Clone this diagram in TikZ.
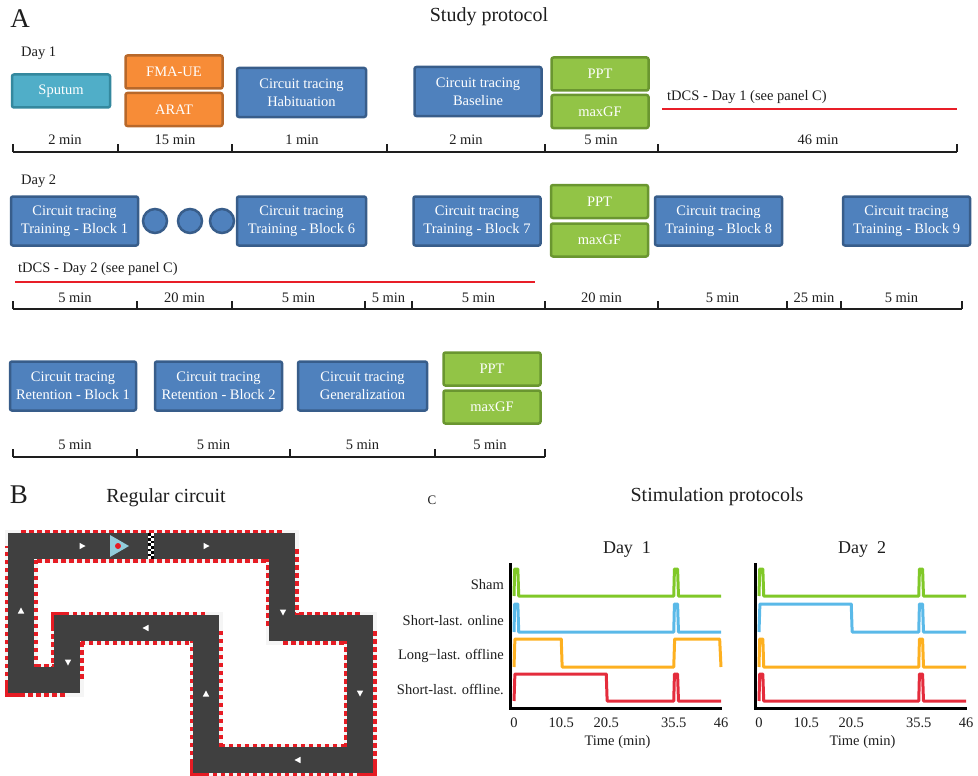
\documentclass[tikz,border=0pt]{standalone}
\usepackage{fontspec}
\setmainfont{Liberation Serif}
\definecolor{ctfill}{RGB}{79,129,189}
\definecolor{ctedge}{RGB}{56,93,138}
\definecolor{spfill}{RGB}{80,174,200}
\definecolor{spedge}{RGB}{52,136,158}
\definecolor{orfill}{RGB}{247,140,55}
\definecolor{oredge}{RGB}{184,104,42}
\definecolor{grfill}{RGB}{146,196,70}
\definecolor{gredge}{RGB}{106,150,48}
\definecolor{ink}{RGB}{30,30,30}
\definecolor{tdcsred}{RGB}{232,30,40}
\definecolor{asphalt}{RGB}{64,64,64}
\definecolor{kerbred}{RGB}{230,28,36}
\definecolor{carblue}{RGB}{146,205,220}
\definecolor{shamgreen}{RGB}{128,200,40}
\definecolor{onlineblue}{RGB}{90,185,232}
\definecolor{longorange}{RGB}{253,176,32}
\definecolor{offred}{RGB}{228,44,60}
\usepackage{tikz}
\usetikzlibrary{positioning}
\tikzset{
  box/.style={draw,line width=2.5pt,rounded corners=2pt,align=center,text=white,
              font=\fontsize{14.5}{18}\selectfont,inner sep=0pt},
  ctbox/.style={box,draw=ctedge,fill=ctfill,minimum width=127pt,minimum height=49pt},
  spbox/.style={box,draw=spedge,fill=spfill,minimum width=97pt,minimum height=33pt},
  clbox/.style={box,draw=oredge,fill=orfill,minimum width=97pt,minimum height=33pt},
  gfbox/.style={box,draw=gredge,fill=grfill,minimum width=97pt,minimum height=33pt},
  gapdot/.style={circle,draw=ctedge,fill=ctfill,line width=2.5pt,minimum size=24pt,inner sep=0pt},
  lbl/.style={font=\fontsize{14.5}{17}\selectfont,text=ink,inner sep=0pt},
  ttl/.style={font=\fontsize{20}{24}\selectfont,text=ink,inner sep=0pt},
  panel/.style={font=\fontsize{27}{30}\selectfont,text=ink,inner sep=0pt},
  tline/.style={line width=2.2pt,draw=ink},
  tdcs/.style={line width=2pt,draw=tdcsred},
  kerbbase/.style={line width=33pt,draw=white!96!black,line join=miter},
  kerbdash/.style={line width=33pt,draw=kerbred,dash pattern=on 4.5pt off 3.5pt,line join=miter},
  roadtop/.style={line width=26pt,draw=asphalt,line join=miter},
  stim/.style={line width=3pt,line join=round},
  axisline/.style={line width=3pt,draw=black},
}

\begin{document}
\begin{tikzpicture}[x=1pt,y=-1pt]
  \useasboundingbox (0,0) rectangle (978,776);

  % ---- A: study protocol
  \node[panel] (pa) at (20,19) {A};
  \node[ttl] (pat) at (489,17) {Study protocol};

  % day 1
  \node[lbl,anchor=west] (day1) at (21,53) {Day 1};
  \node[spbox,minimum width=98pt] (sput) at (61,91) {Sputum};
  \node[clbox] (fma) at (174,72) {FMA-UE};
  \node[clbox] (arat) at (174,109.5) {ARAT};
  \node[ctbox,minimum width=129pt] (habit) at (301.5,92.5) {Circuit tracing\\Habituation};
  \node[ctbox] (basel) at (478,91.5) {Circuit tracing\\Baseline};
  \node[gfbox] (ppt1) at (600,74) {PPT};
  \node[gfbox] (gf1) at (600,111.5) {maxGF};
  \node[lbl,anchor=west] (tdcs1) at (667,97) {tDCS - Day 1 (see panel C)};
  \draw[tdcs] (662,109) -- (957,109);

  \draw[tline] (13,152) -- (957,152);
  \foreach \a/\x/\t [count=\i] in {13/65/2 min,118/175/15 min,232/302/1 min,
      387/466/2 min,545/601/5 min,658/818/46 min}{
    \draw[tline] (\a,152) -- (\a,144);
    \node[lbl] (ta\i) at (\x,140) {\t};
  }
  \draw[tline] (957,152) -- (957,144);

  % day 2
  \node[lbl,anchor=west] (day2) at (21,181) {Day 2};
  \node[ctbox] (tr1) at (74.5,221) {Circuit tracing\\Training - Block 1};
  \foreach \x [count=\i] in {155,190,222}
    \node[gapdot] (gap\i) at (\x,221) {};
  \node[ctbox,minimum width=129pt] (tr6) at (301.5,221) {Circuit tracing\\Training - Block 6};
  \node[ctbox] (tr7) at (477,221) {Circuit tracing\\Training - Block 7};
  \node[gfbox] (ppt2) at (599.5,201.5) {PPT};
  \node[gfbox] (gf2) at (599.5,240) {maxGF};
  \node[ctbox] (tr8) at (718.5,221) {Circuit tracing\\Training - Block 8};
  \node[ctbox] (tr9) at (906.5,221) {Circuit tracing\\Training - Block 9};
  \node[lbl,anchor=west] (tdcs2) at (18,269) {tDCS - Day 2 (see panel C)};
  \draw[tdcs] (15,282) -- (535,282);

  \draw[tline] (13,309) -- (962,309);
  \foreach \a/\b/\t [count=\i] in {13/137/5 min,137/232/20 min,232/365/5 min,
      365/412/5 min,412/545/5 min,545/658/20 min,658/787/5 min,787/841/25 min,841/962/5 min}{
    \draw[tline] (\a,309) -- (\a,301);
    \node[lbl] (tb\i) at ({(\a+\b)/2},298) {\t};
  }
  \draw[tline] (962,309) -- (962,301);

  % retention and generalization
  \node[ctbox,minimum width=126pt] (ret1) at (73,386) {Circuit tracing\\Retention - Block 1};
  \node[ctbox] (ret2) at (218.5,386) {Circuit tracing\\Retention - Block 2};
  \node[ctbox,minimum width=129pt] (gen) at (362.5,386) {Circuit tracing\\Generalization};
  \node[gfbox] (ppt3) at (492,369) {PPT};
  \node[gfbox] (gf3) at (492,407) {maxGF};

  \draw[tline] (13,457) -- (545,457);
  \foreach \a/\b [count=\i] in {13/137,137/290,290/435,435/545}{
    \draw[tline] (\a,457) -- (\a,449);
    \node[lbl] (tc\i) at ({(\a+\b)/2},445) {5 min};
  }
  \draw[tline] (545,457) -- (545,449);

  % ---- B: circuit
  \node[panel] (pb) at (19,495) {B};
  \node[ttl] (pbt) at (166,498) {Regular circuit};
  \foreach \s in {kerbbase,kerbdash,roadtop}
    \draw[\s] (21,546) -- (282,546) -- (282,628) -- (360,628) -- (360,760) -- (206,760)
      -- (206,628) -- (67,628) -- (67,680) -- (21,680) -- cycle;
  % start line
  \fill[white] (148,533) rectangle (154,559);
  \foreach \r in {0,2,...,8}{
    \fill[black] (148,533+2.6*\r) rectangle ++(3,2.6);
    \fill[black] (151,535.6+2.6*\r) rectangle ++(3,2.6);
  }
  % car
  \fill[carblue] (110,535) -- (129,546) -- (110,557) -- cycle;
  \fill[kerbred] (118,546) circle (3pt);
  % driving direction
  \foreach \x/\y/\r in {82/546/0,206/546/0,283/612/-90,146/628/180,21/611/90,
      68/662/-90,206/694/90,360/693/-90,298/760/180}
    \fill[white,rotate around={\r:(\x,\y)}] (\x+3.5,\y) -- (\x-2.5,\y-3.2) -- (\x-2.5,\y+3.2) -- cycle;

  % ---- C: stimulation
  \node[lbl,font=\fontsize{13}{15}\selectfont] (pc) at (432,500) {C};
  \node[ttl] (pct) at (717,497) {Stimulation protocols};
  \node[lbl,font=\fontsize{18}{21}\selectfont] (cd1) at (627,549) {Day\enspace 1};
  \node[lbl,font=\fontsize{18}{21}\selectfont] (cd2) at (862,549) {Day\enspace 2};

  \node[lbl,anchor=east] (sham) at (504,585) {Sham};
  \node[lbl,anchor=east] (sonl) at (504,621) {Short-last. online};
  \node[lbl,anchor=east] (loff) at (504,656) {Long−last. offline};
  \node[lbl,anchor=east] (soff) at (504,689) {Short-last. offline.};

  % day 1 traces
  \begin{scope}[shift={(514,0)},x=4.5pt]
    \draw[stim,shamgreen] (0,596) -- (0.15,569) -- (0.85,569) -- (1.05,596) -- (35.5,596)
      -- (35.65,569) -- (36.35,569) -- (36.55,596) -- (46,596);
    \draw[stim,onlineblue] (0,632) -- (0.15,604) -- (0.85,604) -- (1.05,632) -- (35.5,632)
      -- (35.65,604) -- (36.35,604) -- (36.55,632) -- (46,632);
    \draw[stim,longorange] (0,667) -- (0.2,639) -- (10.5,639) -- (10.7,667) -- (35.5,667)
      -- (35.7,639) -- (45.7,639) -- (46,667);
    \draw[stim,offred] (0,701) -- (0.2,674) -- (20.5,674) -- (20.7,701) -- (35.5,701)
      -- (35.65,674) -- (36.35,674) -- (36.55,701) -- (46,701);
    \draw[axisline] (-0.7,563) -- (-0.7,708) -- (46.2,708);
    \foreach \t in {0,10.5,20.5,35.5,46}
      \node[lbl] (ta-\t) at (\t,723) {\t};
    \node[lbl] (tta) at (23,742) {Time (min)};
  \end{scope}

  % day 2 traces
  \begin{scope}[shift={(759,0)},x=4.5pt]
    \draw[stim,shamgreen] (0,596) -- (0.15,569) -- (0.85,569) -- (1.05,596) -- (35.5,596)
      -- (35.65,569) -- (36.35,569) -- (36.55,596) -- (46,596);
    \draw[stim,onlineblue] (0,632) -- (0.2,604) -- (20.5,604) -- (20.7,632) -- (35.5,632)
      -- (35.65,604) -- (36.35,604) -- (36.55,632) -- (46,632);
    \draw[stim,longorange] (0,667) -- (0.15,639) -- (0.85,639) -- (1.05,667) -- (35.5,667)
      -- (35.65,639) -- (36.35,639) -- (36.55,667) -- (46,667);
    \draw[stim,offred] (0,701) -- (0.15,674) -- (0.85,674) -- (1.05,701) -- (35.5,701)
      -- (35.65,674) -- (36.35,674) -- (36.55,701) -- (46,701);
    \draw[axisline] (-0.7,563) -- (-0.7,708) -- (46.2,708);
    \foreach \t in {0,10.5,20.5,35.5,46}
      \node[lbl] (tb-\t) at (\t,723) {\t};
    \node[lbl] (ttb) at (23,742) {Time (min)};
  \end{scope}
\end{tikzpicture}
\end{document}
